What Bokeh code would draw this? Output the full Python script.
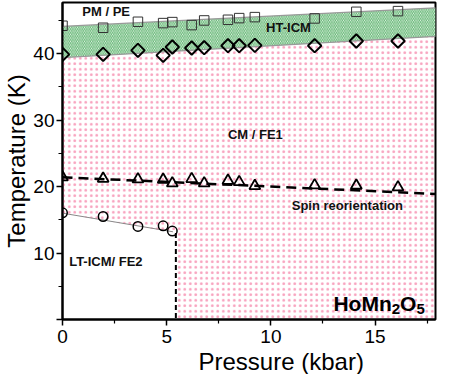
from bokeh.plotting import figure
from bokeh.embed import file_html
from bokeh.resources import INLINE
from bokeh.models import FixedTicker, Label, Title
from bokeh.core.properties import value

# ---- data ----
pressure = [0, 1.95, 3.62, 4.83, 5.27, 6.2, 6.8, 7.94, 8.48, 9.23, 12.1, 14.1, 16.1]
t_pm = [44.2, 43.9, 44.8, 44.6, 44.75, 44.3, 45.0, 45.1, 45.35, 45.5, 45.3, 46.3, 46.4]
t_ht = [39.9, 39.9, 40.5, 39.75, 41.0, 40.85, 40.9, 41.2, 41.2, 41.25, 41.2, 41.9, 41.9]
t_sr = [21.4, 21.2, 21.1, 21.05, 20.5, 21.15, 20.5, 20.9, 20.7, 20.1, 20.2, 20.15, 19.9]

pressure_lt = [0, 1.95, 3.62, 4.83, 5.27]
t_lt = [16.05, 15.5, 14.0, 14.1, 13.3]

# phase boundaries
bound_x = [0, 17.9]
upper_y = [44.1, 46.9]
lower_y = [39.4, 42.6]
sr_y = [21.4, 18.9]
lt_line_x = [0, 5.3]
lt_line_y = [16.0, 13.2]
lt_edge_x = [5.44, 5.44]
lt_edge_y = [13.0, 0]

x_ticks = [0, 5, 10, 15]
x_minor = [2.5, 7.5, 12.5, 17.5]
y_ticks = [0, 10, 20, 30, 40]
y_minor = [5, 15, 25, 35, 45]

FONT = "Liberation Sans"

p = figure(width=441, height=374, x_range=(0, 17.9), y_range=(0, 47.7),
           output_backend="svg", toolbar_location=None,
           min_border_top=2, min_border_right=6, min_border_left=2, min_border_bottom=0)
p.background_fill_color = "white"
p.border_fill_color = "white"
p.outline_line_color = "black"
p.outline_line_width = 2
p.xgrid.visible = False
p.ygrid.visible = False

# pink dotted CM/FE1 region
pink_x = [bound_x[0], bound_x[1], bound_x[1], lt_edge_x[0], lt_edge_x[0], lt_line_x[0]]
pink_y = [lower_y[0], lower_y[1], 0, 0, lt_edge_y[0], lt_line_y[0]]
p.patch(pink_x, pink_y, fill_alpha=0, line_alpha=0,
        hatch_pattern="dot", hatch_color="#f0407a", hatch_alpha=0.5,
        hatch_scale=5.5, hatch_weight=1)

# green hatched HT-ICM region
green_x = [bound_x[0], bound_x[1], bound_x[1], bound_x[0]]
green_y = [upper_y[0], upper_y[1], lower_y[1], lower_y[0]]
p.patch(green_x, green_y, fill_color="#eef7ee", fill_alpha=1, line_alpha=0,
        hatch_pattern="left_diagonal_line", hatch_color="#2e9e45", hatch_alpha=0.75,
        hatch_scale=3.5, hatch_weight=1)

# boundary lines
p.line(bound_x, upper_y, line_color="#999999", line_width=1.2)
p.line(bound_x, lower_y, line_color="#999999", line_width=1.2)
p.line(bound_x, sr_y, line_color="black", line_width=2.5, line_dash="10 6")
p.line(lt_line_x, lt_line_y, line_color="#888888", line_width=1)
p.line(lt_edge_x, lt_edge_y, line_color="black", line_width=2, line_dash="5 3")

# markers
p.scatter(pressure, t_pm, marker="square", size=9.5, fill_color="white", fill_alpha=0,
          line_color="#333333", line_width=1)
p.scatter(pressure, t_ht, marker="square", angle=0.785398, size=9.5, fill_color="white",
          fill_alpha=0, line_color="black", line_width=2)
p.scatter(pressure, t_sr, marker="triangle", size=11, fill_color="white", fill_alpha=0,
          line_color="black", line_width=1.8)
p.scatter(pressure_lt, t_lt, marker="circle", size=9.5, fill_color="white", fill_alpha=0,
          line_color="black", line_width=1.5)

# region labels
labels = [
    (0.95, 46.4, "PM / PE"),
    (9.77, 43.9, "HT-ICM"),
    (7.94, 27.9, "CM / FE1"),
    (11.0, 17.1, "Spin reorientation"),
    (0.32, 8.8, "LT-ICM/ FE2"),
]
for lx, ly, lt in labels:
    p.add_layout(Label(x=lx, y=ly, text=lt, text_font=FONT, text_font_style="bold",
                       text_font_size="13px", text_baseline="middle", text_align="left",
                       text_color="#111111"))

# compound label HoMn2O5
bx, by = 13.0, 2.4
big, small = 21, 15
parts = [("HoMn", big, 0, 0), ("2", small, 2.777 * big, -5),
         ("O", big, 2.777 * big + 0.556 * small, 0),
         ("5", small, 2.777 * big + 0.556 * small + 0.778 * big, -5)]
for txt, fs, xo, yo in parts:
    p.add_layout(Label(x=bx, y=by, x_offset=xo, y_offset=yo, text=txt, text_font=FONT,
                       text_font_style="bold", text_font_size=f"{fs}px",
                       text_baseline="alphabetic", text_align="left", text_color="black"))

# axes
p.xaxis.ticker = FixedTicker(ticks=x_ticks, minor_ticks=x_minor)
p.yaxis.ticker = FixedTicker(ticks=y_ticks, minor_ticks=y_minor)
p.yaxis.major_label_overrides = {0: ""}
p.yaxis.axis_label = "Temperature (K)"
for ax in (p.xaxis[0], p.yaxis[0]):
    ax.axis_line_width = 2
    ax.axis_line_color = "black"
    ax.major_tick_line_width = 1.5
    ax.minor_tick_line_width = 1.2
    ax.major_tick_out = 6
    ax.major_tick_in = 0
    ax.minor_tick_out = 4
    ax.minor_tick_in = 0
    ax.major_label_text_font = FONT
    ax.major_label_text_font_size = "19px"
    ax.major_label_text_color = "black"
    ax.axis_label_text_font = FONT
    ax.axis_label_text_font_style = "normal"
    ax.axis_label_text_font_size = "24px"
    ax.axis_label_text_color = "black"
p.xaxis.major_label_standoff = 4
p.yaxis.major_label_standoff = 2
p.yaxis.axis_label_standoff = 0

# x-axis title, placed right of centre as in the reference
p.add_layout(Title(text="Pressure (kbar)", align="left", offset=136, standoff=0,
                   text_font=FONT, text_font_style="normal", text_font_size="24px",
                   text_color="black"), "below")

open("out.html", "w").write(file_html(p, INLINE))
